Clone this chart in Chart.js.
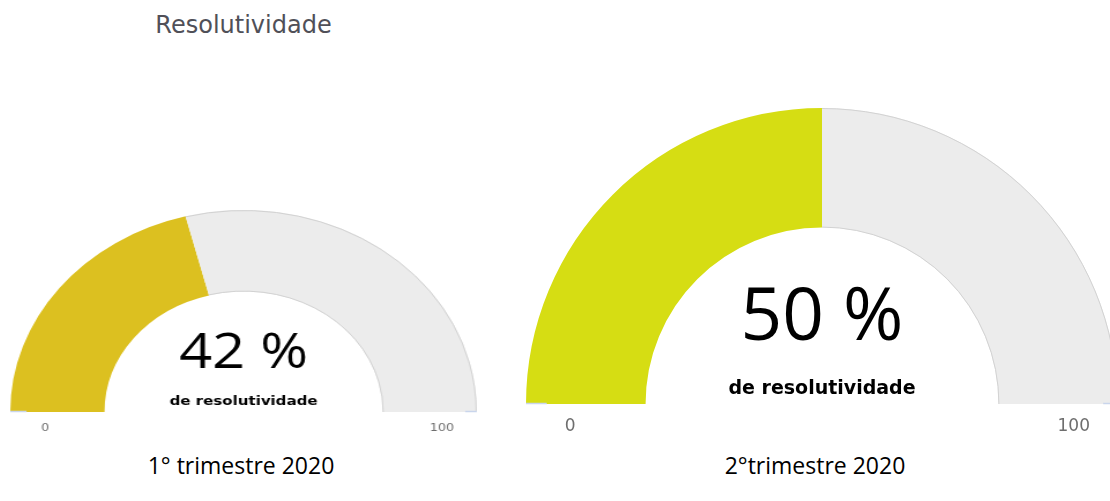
<!DOCTYPE html>
<html lang="pt-BR">
<head>
<meta charset="utf-8">
<title>Resolutividade</title>
<script src="https://cdn.jsdelivr.net/npm/chart.js@4.4.1/dist/chart.umd.min.js"></script>
<style>
    html, body { margin: 0; padding: 0; background: #fff; }
    body { width: 1110px; height: 501px; position: relative; overflow: hidden; }
    #titulo {
        position: absolute; left: 0; width: 487px; top: 13px;
        text-align: center; font: 24px/24px "DejaVu Sans", sans-serif; color: #505058;
    }
    .rotulo {
        position: absolute; top: 454px; text-align: center;
        font: 23px/23px "Open Sans", sans-serif; color: #000;
    }
    canvas { position: absolute; }
    #gauge1 { left: 1px; top: 206px; transform: scaleX(1.155); transform-origin: 0 0; }
    #gauge2 { left: 522px; top: 106px; }
</style>
</head>
<body>
<div id="titulo">Resolutividade</div>
<canvas id="gauge1" width="420" height="240"></canvas>
<canvas id="gauge2" width="600" height="340"></canvas>
<div class="rotulo" id="rotulo1" style="left:91px;width:300px"></div>
<div class="rotulo" id="rotulo2" style="left:665px;width:300px"></div>

<script>
// Dados do grafico
const periodos = ['1° trimestre 2020', '2°trimestre 2020'];
const resolutividade = [42, 50];
const escalaMin = [0, 0];
const escalaMax = [100, 100];
const subtitulo = 'de resolutividade';
const coresValor = ['#DCC020', '#D6DD13'];
const corResto = '#ECECEC';

// desenha o texto do centro, as marcas 0/100 e a borda cinza
const pluginGauge = {
    id: 'textoGauge',
    afterDatasetsDraw(chart, args, opts) {
        const ctx = chart.ctx;
        const arcos = chart.getDatasetMeta(0).data;
        const resto = arcos[1].getProps(['x', 'y', 'startAngle', 'endAngle', 'outerRadius', 'innerRadius'], true);
        const cx = resto.x, cy = resto.y, R = resto.outerRadius, r = resto.innerRadius;

        ctx.save();
        // borda do arco cinza
        ctx.strokeStyle = '#D2D2D2';
        ctx.lineWidth = 1;
        ctx.beginPath();
        ctx.arc(cx, cy, R - 0.5, resto.startAngle, resto.endAngle);
        ctx.stroke();
        ctx.beginPath();
        ctx.arc(cx, cy, r + 0.5, resto.startAngle, resto.endAngle);
        ctx.stroke();

        // pequenas marcas azuladas na base
        ctx.strokeStyle = '#C9D5EC';
        ctx.lineWidth = 1.5;
        ctx.beginPath();
        ctx.moveTo(cx + R * 0.95, cy - 0.5);
        ctx.lineTo(cx + R, cy - 0.5);
        ctx.moveTo(cx - R, cy - 0.5);
        ctx.lineTo(cx - R * 0.93, cy - 0.5);
        ctx.stroke();

        ctx.textAlign = 'center';
        ctx.textBaseline = 'alphabetic';
        ctx.fillStyle = '#000';
        ctx.font = `${Math.round(R * 0.2475)}px "Open Sans", sans-serif`;
        ctx.fillText(`${opts.valor} %`, cx, cy - R * 0.217);

        ctx.font = `bold ${Math.round(R * 0.063)}px "DejaVu Sans", sans-serif`;
        ctx.fillText(subtitulo, cx, cy - R * 0.033);

        const dx = R * 0.63 + r * 0.37;
        ctx.fillStyle = '#6E6E6E';
        ctx.font = `${Math.round(R * 0.056)}px "DejaVu Sans", sans-serif`;
        ctx.fillText(String(opts.min), cx - dx, cy + R * 0.092);
        ctx.fillText(String(opts.max), cx + dx, cy + R * 0.092);
        ctx.restore();
    }
};

function criarGauge(id, i, raio, padBaixo) {
    const config = {
        type: 'doughnut',
        data: {
            labels: [periodos[i], ''],
            datasets: [{
                data: [resolutividade[i] - escalaMin[i], escalaMax[i] - resolutividade[i]],
                backgroundColor: [coresValor[i], corResto],
                borderWidth: 0
            }]
        },
        options: {
            responsive: false,
            animation: false,
            rotation: -90,
            circumference: 180,
            radius: raio,
            cutout: '59.6%',
            layout: { padding: { bottom: padBaixo } },
            plugins: {
                legend: { display: false },
                tooltip: { enabled: false },
                textoGauge: { valor: resolutividade[i], min: escalaMin[i], max: escalaMax[i] }
            }
        },
        plugins: [pluginGauge]
    };
    document.getElementById('rotulo' + (i + 1)).textContent = periodos[i];
    return new Chart(document.getElementById(id), config);
}

criarGauge('gauge1', 0, 202, 30);
criarGauge('gauge2', 1, 296, 40);
</script>
</body>
</html>
